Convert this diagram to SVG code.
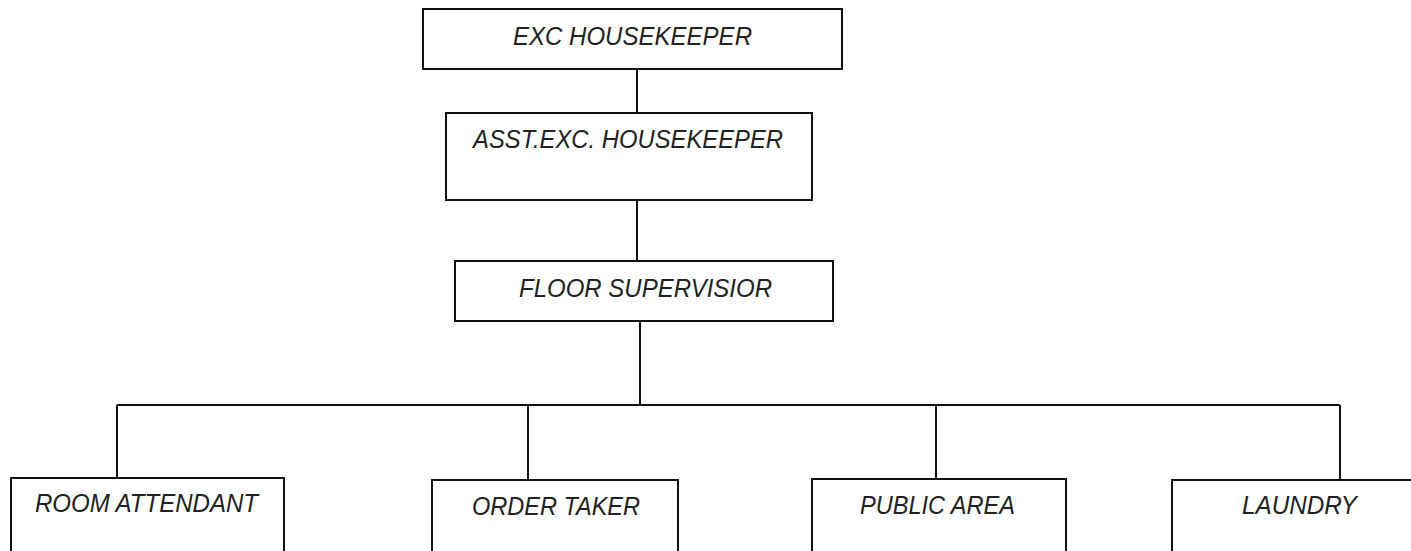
<svg xmlns="http://www.w3.org/2000/svg" width="1411" height="551" viewBox="0 0 1411 551">
<style>
.box{fill:#fff;stroke:#111;stroke-width:2}
.lbl{font-family:"Liberation Sans",Arial,sans-serif;font-style:italic;font-size:26px;fill:#222;text-anchor:middle}
.con{stroke:#111;stroke-width:2;fill:none}
</style>
<rect width="1411" height="551" fill="#fff"/>
<g id="connectors">
<path class="con" d="M637 69V113M637 200V261M640 321V405M117 405H1340M117 405V478M528 405V480M936 405V479M1340 405V480"/>
</g>
<g id="exc"><rect class="box" x="423" y="9" width="419" height="60"/><text class="lbl" x="632.5" y="45" textLength="239" lengthAdjust="spacingAndGlyphs">EXC HOUSEKEEPER</text></g>
<g id="asst"><rect class="box" x="446" y="113" width="366" height="87"/><text class="lbl" x="628" y="148" textLength="310" lengthAdjust="spacingAndGlyphs">ASST.EXC. HOUSEKEEPER</text></g>
<g id="floor"><rect class="box" x="455" y="261" width="378" height="60"/><text class="lbl" x="645.5" y="297" textLength="253" lengthAdjust="spacingAndGlyphs">FLOOR SUPERVISIOR</text></g>
<g id="room"><rect class="box" x="11" y="478" width="273" height="90"/><text class="lbl" x="146.5" y="512" textLength="223" lengthAdjust="spacingAndGlyphs">ROOM ATTENDANT</text></g>
<g id="order"><rect class="box" x="432" y="480" width="246" height="90"/><text class="lbl" x="556" y="515" textLength="168" lengthAdjust="spacingAndGlyphs">ORDER TAKER</text></g>
<g id="public"><rect class="box" x="812" y="479" width="254" height="90"/><text class="lbl" x="937.5" y="514" textLength="155" lengthAdjust="spacingAndGlyphs">PUBLIC AREA</text></g>
<g id="laundry"><rect class="box" x="1172" y="480" width="260" height="90"/><text class="lbl" x="1299.5" y="514" textLength="115" lengthAdjust="spacingAndGlyphs">LAUNDRY</text></g>
</svg>
